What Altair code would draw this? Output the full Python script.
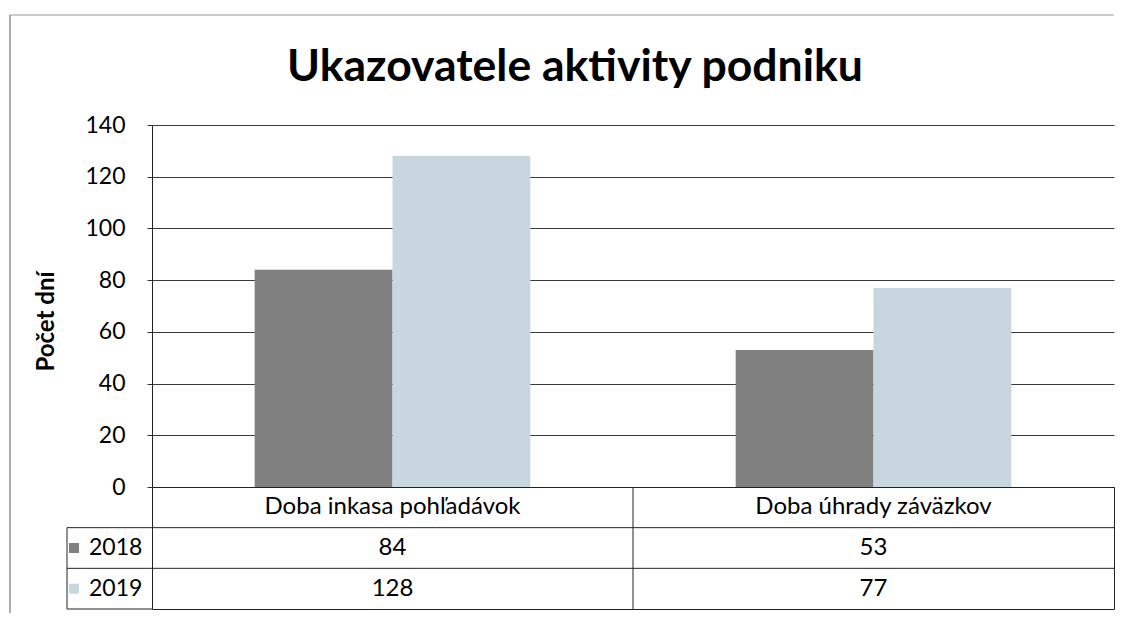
import altair as alt
import pandas as pd

categories = ["Doba inkasa pohľadávok", "Doba úhrady záväzkov"]
years = ["2018", "2019"]
values_2018 = [84, 53]
values_2019 = [128, 77]
y_ticks = [0, 20, 40, 60, 80, 100, 120, 140]
year_colors = ["#808080", "#c7d6df"]
title_text = "Ukazovatele aktivity podniku"
y_title = "Počet dní"

FONT = "Lato"
W = 962
H = 362
TH = 122

rows = []
for c, v18, v19 in zip(categories, values_2018, values_2019):
    rows.append({"cat": c, "year": "2018", "value": v18})
    rows.append({"cat": c, "year": "2019", "value": v19})
df = pd.DataFrame(rows)

xscale = alt.Scale(domain=categories, paddingInner=0, paddingOuter=0)
color_scale = alt.Scale(domain=years, range=year_colors)

bars = alt.Chart(df).mark_bar().encode(
    x=alt.X("cat:N", scale=xscale, axis=None, sort=categories),
    xOffset=alt.XOffset("year:N", scale=alt.Scale(domain=years, paddingOuter=0.745, paddingInner=0)),
    y=alt.Y(
        "value:Q",
        scale=alt.Scale(domain=[0, 140], nice=False),
        axis=alt.Axis(
            values=y_ticks,
            title=y_title,
            titleFont=FONT,
            titleFontSize=24,
            titleFontWeight="bold",
            titleColor="black",
            titleX=-94,
            titleY=196,
            labelFont=FONT,
            labelFontSize=23,
            labelColor="black",
            labelPadding=22,
            tickSize=5,
            tickColor="#333333",
            domainColor="#222222",
            grid=True,
            gridColor="#3a3a3a",
            gridWidth=1,
        ),
    ),
    color=alt.Color("year:N", scale=color_scale, legend=None),
)

title_df = pd.DataFrame({"t": [title_text]})
title_mark = alt.Chart(title_df).mark_text(
    font=FONT, fontSize=44.5, fontWeight="bold", color="black", align="center", baseline="alphabetic"
).encode(text="t:N", x=alt.value(423), y=alt.value(-44))

frame_df = pd.DataFrame({"k": [1]})
top_border = alt.Chart(frame_df).mark_rule(color="#9a9a9a", strokeWidth=1.2).encode(
    x=alt.value(-142), x2=alt.value(W), y=alt.value(-110)
)
left_border_top = alt.Chart(frame_df).mark_rule(color="#777777", strokeWidth=1.2).encode(
    x=alt.value(-142), y=alt.value(-110), y2=alt.value(H)
)

top = alt.layer(bars, title_mark, top_border, left_border_top).properties(
    width=W, height=H, view=alt.ViewBackground(stroke=None)
)

# data table
trow = []
for c in categories:
    trow.append({"row": "header", "cat": c, "label": c})
for c, v18, v19 in zip(categories, values_2018, values_2019):
    trow.append({"row": "2018", "cat": c, "label": str(v18)})
    trow.append({"row": "2019", "cat": c, "label": str(v19)})
tdf = pd.DataFrame(trow)
row_domain = ["header"] + years
yrow = alt.Scale(domain=row_domain, paddingInner=0, paddingOuter=0)
xtab = alt.Scale(domain=categories, paddingInner=0, paddingOuter=0)

cell_text = alt.Chart(tdf).mark_text(font=FONT, fontSize=24, color="black").encode(
    x=alt.X("cat:N", scale=xtab, axis=None, sort=categories),
    y=alt.Y("row:N", scale=yrow, axis=None, sort=row_domain),
    text="label:N",
)

ydf = pd.DataFrame({"row": years, "year": years})
row_labels = alt.Chart(ydf).mark_text(font=FONT, fontSize=23, color="black", align="left").encode(
    x=alt.value(-63),
    y=alt.Y("row:N", scale=yrow, axis=None, sort=row_domain),
    text="year:N",
)
row_keys = alt.Chart(ydf).mark_point(shape="square", filled=True, size=100, opacity=1).encode(
    x=alt.value(-78),
    y=alt.Y("row:N", scale=yrow, axis=None, sort=row_domain),
    color=alt.Color("year:N", scale=color_scale, legend=None),
)

hlines = alt.Chart(ydf).mark_rule(color="#222222", strokeWidth=1).encode(
    x=alt.value(-85), x2=alt.value(W),
    y=alt.Y("row:N", scale=yrow, axis=None, sort=row_domain, bandPosition=0),
)
bottom_line = alt.Chart(pd.DataFrame({"row": ["2019"]})).mark_rule(color="#222222", strokeWidth=1).encode(
    x=alt.value(-85), x2=alt.value(0),
    y=alt.Y("row:N", scale=yrow, axis=None, sort=row_domain, bandPosition=1),
)
left_cell = alt.Chart(frame_df).mark_rule(color="#222222", strokeWidth=1).encode(
    x=alt.value(-85), y=alt.value(TH / 3), y2=alt.value(TH)
)
vline = alt.Chart(pd.DataFrame({"cat": [categories[1]]})).mark_rule(color="#222222", strokeWidth=1).encode(
    x=alt.X("cat:N", scale=xtab, axis=None, sort=categories, bandPosition=0),
)
left_border_bottom = alt.Chart(frame_df).mark_rule(color="#777777", strokeWidth=1.2).encode(
    x=alt.value(-142), y=alt.value(0), y2=alt.value(TH + 4)
)

table = alt.layer(hlines, bottom_line, left_cell, vline, cell_text, row_labels, row_keys, left_border_bottom).properties(
    width=W, height=TH, view=alt.ViewBackground(stroke="#222222", strokeWidth=1)
)

chart = alt.vconcat(top, table, spacing=0, bounds="flush").properties(
    padding={"left": 0, "top": 6, "right": 5, "bottom": 2},
    background="white",
).configure_view(stroke=None)

chart.save("out.html", embed_options={"renderer": "svg", "actions": False})
